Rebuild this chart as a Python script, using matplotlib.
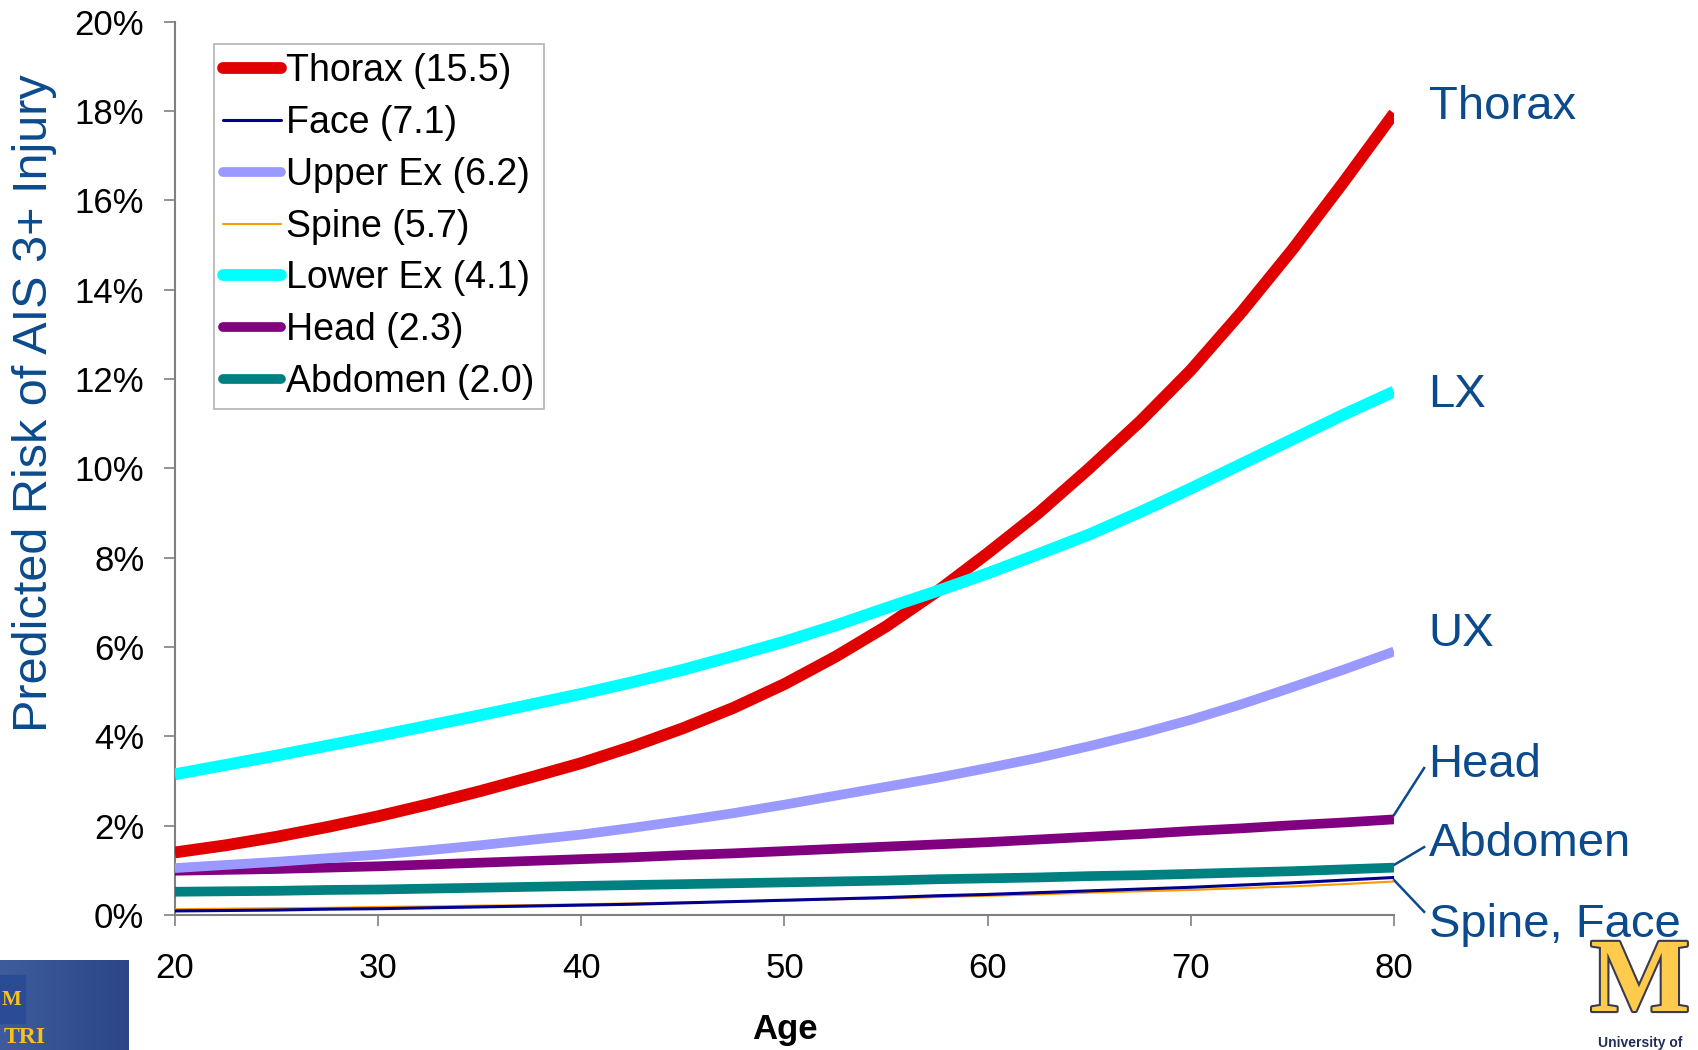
import matplotlib
matplotlib.use("Agg")
import matplotlib.pyplot as plt
import matplotlib.patheffects as pe
from matplotlib.patches import Rectangle
import numpy as np

ages = [20, 22.5, 25, 27.5, 30, 32.5, 35, 37.5, 40, 42.5, 45, 47.5, 50,
        52.5, 55, 57.5, 60, 62.5, 65, 67.5, 70, 72.5, 75, 77.5, 80]
thorax = [1.40, 1.56, 1.75, 1.97, 2.21, 2.48, 2.77, 3.08, 3.40, 3.77, 4.18, 4.64, 5.17,
          5.78, 6.46, 7.24, 8.10, 9.00, 10.0, 11.05, 12.2, 13.5, 14.9, 16.4, 17.95]
face = [0.09, 0.10, 0.11, 0.13, 0.14, 0.16, 0.18, 0.20, 0.22, 0.24, 0.27, 0.30, 0.33,
        0.36, 0.39, 0.43, 0.46, 0.50, 0.54, 0.58, 0.62, 0.67, 0.72, 0.78, 0.84]
upper_ex = [1.05, 1.12, 1.19, 1.27, 1.35, 1.45, 1.56, 1.68, 1.80, 1.95, 2.11, 2.28, 2.47,
            2.67, 2.87, 3.07, 3.29, 3.52, 3.78, 4.06, 4.37, 4.72, 5.10, 5.49, 5.90]
spine = [0.13, 0.14, 0.15, 0.16, 0.18, 0.19, 0.21, 0.22, 0.24, 0.26, 0.28, 0.30, 0.32,
         0.35, 0.37, 0.40, 0.43, 0.46, 0.50, 0.53, 0.56, 0.60, 0.64, 0.69, 0.75]
lower_ex = [3.15, 3.36, 3.57, 3.79, 4.01, 4.24, 4.47, 4.71, 4.95, 5.21, 5.49, 5.80, 6.12,
            6.48, 6.87, 7.25, 7.65, 8.08, 8.52, 9.02, 9.55, 10.10, 10.65, 11.20, 11.72]
head = [0.99, 1.01, 1.03, 1.06, 1.09, 1.13, 1.17, 1.21, 1.25, 1.29, 1.34, 1.38, 1.43,
        1.48, 1.53, 1.58, 1.63, 1.69, 1.75, 1.81, 1.88, 1.94, 2.01, 2.07, 2.14]
abdomen = [0.52, 0.53, 0.54, 0.56, 0.57, 0.59, 0.61, 0.63, 0.65, 0.67, 0.69, 0.71, 0.73,
           0.75, 0.77, 0.80, 0.82, 0.84, 0.87, 0.89, 0.92, 0.95, 0.98, 1.02, 1.06]

series_names = ["Thorax (15.5)", "Face (7.1)", "Upper Ex (6.2)", "Spine (5.7)",
                "Lower Ex (4.1)", "Head (2.3)", "Abdomen (2.0)"]
series_vals = [thorax, face, upper_ex, spine, lower_ex, head, abdomen]
colors = ["#E00000", "#000090", "#9999FF", "#FF9900", "#00FFFF", "#800080", "#008080"]
widths = [8.5, 2.2, 7, 1.5, 8.5, 7, 7]

x_ticks = [20, 30, 40, 50, 60, 70, 80]
y_ticks = [0, 2, 4, 6, 8, 10, 12, 14, 16, 18, 20]

right_labels = ["Thorax", "LX", "UX", "Head", "Abdomen", "Spine, Face"]
right_label_y = [18.1, 11.65, 6.3, 3.35, 1.58, -0.22]

plt.rcParams['font.family'] = ['Liberation Sans', 'DejaVu Sans']
label_blue = "#0B4A8C"

fig = plt.figure(figsize=(16.98, 10.5), dpi=100)
ax = fig.add_axes([0.103, 0.1286, 0.718, 0.8507])

# drawing order (bottom to top)
order = [6, 5, 2, 3, 1, 0, 4]
lines = {}
for z, i in enumerate(order):
    ln, = ax.plot(ages, series_vals[i], color=colors[i], lw=widths[i],
                  solid_capstyle='butt', solid_joinstyle='round',
                  label=series_names[i], zorder=3 + z * 0.1)
    lines[i] = ln

ax.set_xlim(20, 80)
ax.set_ylim(0, 20)
ax.set_xticks(x_ticks)
ax.set_yticks(y_ticks)
ax.set_yticklabels([f"{v}%" for v in y_ticks])
ax.tick_params(axis='both', labelsize=25, colors='#808080', labelcolor='black',
               length=8, width=1.2, direction='out')
ax.tick_params(axis='y', pad=14)
ax.tick_params(axis='x', pad=19)
for s in ['top', 'right']:
    ax.spines[s].set_visible(False)
for s in ['left', 'bottom']:
    ax.spines[s].set_color('#808080')
    ax.spines[s].set_linewidth(1.5)

# legend
handles = [lines[i] for i in range(7)]
leg = fig.legend(handles, series_names, loc='upper left', bbox_to_anchor=(0.126, 0.958),
                 fontsize=27, frameon=True, fancybox=False, edgecolor='#A0A0A0',
                 handlelength=1.55, handletextpad=0.12, labelspacing=0.42,
                 borderpad=0.25, borderaxespad=0)
leg.get_frame().set_linewidth(1.2)
for h in leg.legend_handles:
    h.set_solid_capstyle('round')

# right-side labels
for name, yv in zip(right_labels, right_label_y):
    ax.text(81.7, yv, name, fontsize=34, color=label_blue, va='center', ha='left',
            clip_on=False)

# leader lines
ax.plot([80.0, 81.48], [2.24, 3.29], color=label_blue, lw=1.8, clip_on=False)
ax.plot([80.0, 81.48], [1.12, 1.52], color=label_blue, lw=1.8, clip_on=False)
ax.plot([80.0, 81.48], [0.78, 0.07], color=label_blue, lw=1.8, clip_on=False)

# axis titles
fig.text(0.0206, 0.6157, "Predicted Risk of AIS 3+ Injury", rotation=90, fontsize=35,
         color=label_blue, ha='center', va='center')
fig.text(784.5 / 1698, 1 - 1029 / 1050, "Age", fontsize=25, fontweight='bold',
         ha='center', va='center', color='black')

# bottom-left logo (approximation)
grad = np.linspace(0, 1, 256).reshape(1, -1)
logo_ax = fig.add_axes([0, 0, 129 / 1698, 90 / 1050])
logo_ax.imshow(grad, aspect='auto', cmap=matplotlib.colors.LinearSegmentedColormap.from_list(
    'b', ['#3E5C9C', '#2C4687']), extent=[0, 1, 0, 1])
logo_ax.add_patch(Rectangle((0, 0.3), 0.19, 0.53, color='#2A4C96', zorder=2))
logo_ax.text(0.09, 0.56, "M", color='#F7C21A', fontsize=15, fontweight='bold',
             family='Liberation Serif', ha='center', va='center', zorder=3)
logo_ax.text(0.03, 0.02, "TRI", color='#F7C21A', fontsize=17, fontweight='bold',
             family='Liberation Serif', ha='left', va='bottom', zorder=3)
logo_ax.set_xlim(0, 1)
logo_ax.set_ylim(0, 1)
logo_ax.axis('off')

# bottom-right logo (approximation)
fig.text(1640 / 1698, 1 - 1034 / 1050, "M", fontsize=76, fontweight='bold',
         family='Liberation Serif', color='#FFCB4C', ha='center', va='bottom',
         path_effects=[pe.withStroke(linewidth=3, foreground='#3A3A50')])
fig.text(1598 / 1698, 1 - 1043 / 1050, "University of", fontsize=10, fontweight='bold',
         color='#1F2F5A', ha='left', va='center')

fig.savefig("out.png", dpi=100)
